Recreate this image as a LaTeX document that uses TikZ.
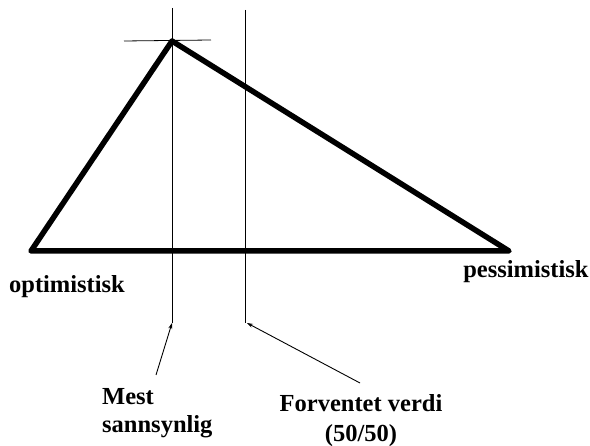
\documentclass[tikz,border=0pt]{standalone}
\usepackage{fontspec}
\setmainfont{Liberation Serif}
\usetikzlibrary{arrows.meta}
\begin{document}
\begin{tikzpicture}[x=1pt,y=-1pt,
  thick line/.style={line width=5.5pt,line join=round,line cap=round},
  thin line/.style={line width=0.8pt},
  lbl/.style={font=\fontsize{24.5}{29}\selectfont\bfseries,inner sep=0pt},
  pointer/.style={line width=0.9pt,-{Stealth[length=6pt,width=4pt]}}]
\useasboundingbox (0,0) rectangle (590,446);
% vertices
\coordinate (L) at (31,251);
\coordinate (P) at (172,41);
\coordinate (R) at (509,251);
% guide lines
\coordinate (v1top) at (172,8);
\coordinate (v1bot) at (172,323);
\coordinate (v2top) at (245,10);
\coordinate (v2bot) at (245,323);
\coordinate (hL) at (124,41);
\coordinate (hR) at (211,40);
\draw[thin line] (v1top) -- (v1bot);
\draw[thin line] (v2top) -- (v2bot);
\draw[thin line] (hL) -- (hR);
\draw[thick line] (L) -- (P) -- (R) -- cycle;
% labels
\node[lbl,anchor=base] (opt) at (67,293) {optimistisk};
\node[lbl,anchor=base] (pes) at (526,278) {pessimistisk};
\node[lbl,anchor=base west,align=left,font=\fontsize{24.5}{28}\selectfont\bfseries] (mest) at (102,433) {Mest\\sannsynlig};
\node[lbl,anchor=base,align=center,font=\fontsize{24.5}{30}\selectfont\bfseries] (forv) at (361,442) {Forventet verdi\\(50/50)};
% pointers
\coordinate (t1) at (156,375);
\coordinate (t2) at (360,383);
\draw[pointer] (t1) -- (v1bot);
\draw[pointer] (t2) -- ([xshift=2pt]v2bot);
\end{tikzpicture}
\end{document}
